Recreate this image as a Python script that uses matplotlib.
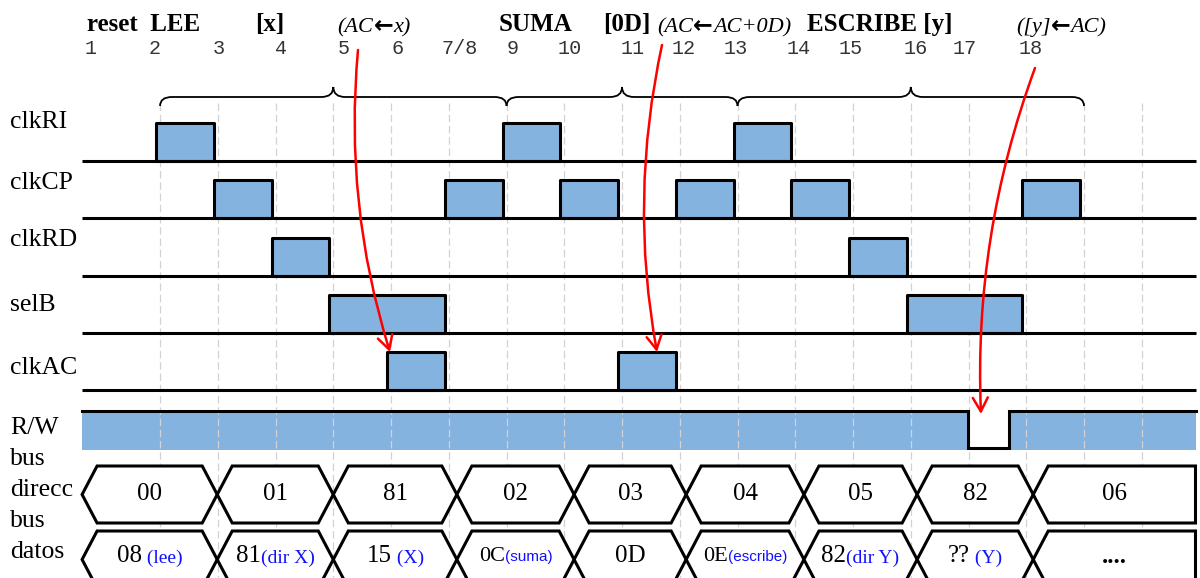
import matplotlib
matplotlib.use('Agg')
import matplotlib.pyplot as plt
from matplotlib.patches import Polygon, PathPatch
from matplotlib.path import Path
from matplotlib.offsetbox import TextArea, HPacker, AnnotationBbox

# ---------------- data ----------------
signal_names = ['clkRI', 'clkCP', 'clkRD', 'selB', 'clkAC']
clkRI = [(0, 1), (6, 7), (10, 11)]
clkCP = [(1, 2), (5, 6), (7, 8), (9, 10), (11, 12), (15, 16)]
clkRD = [(2, 3), (12, 13)]
selB = [(3, 5), (13, 15)]
clkAC = [(4, 5), (8, 9)]
signal_pulses = [clkRI, clkCP, clkRD, selB, clkAC]
rw_low = (14.06, 14.77)
t_start, t_end = -1.28, 18.0
bus_edges = [-1.28, 1.06, 3.07, 5.21, 7.24, 9.18, 11.22, 13.18, 15.19, 18.0]
bus_direcc = ['00', '01', '81', '02', '03', '04', '05', '82', '06']
bus_datos = ['08', '81', '15', '0C', '0D', '0E', '82', '??', '....']
bus_datos_notes = [' (lee)', '(dir X)', ' (X)', '(suma)', '', '(escribe)', '(dir Y)', ' (Y)', '']
step_labels = ['1', '2', '3', '4', '5', '6', '7/8', '9', '10', '11', '12', '13',
               '14', '15', '16', '17', '18']
step_x_px = [91, 155, 219, 281, 344, 398, 460, 513, 570, 633, 684, 736, 799,
             851, 916, 965, 1031]
brace_spans = [(0, 3, 6), (6, 8, 10), (10, 13, 16)]
titles = ['[x]', 'SUMA', '[0D]', 'ESCRIBE [y]']
titles_x_px = [270, 536, 627, 880]
notes = [('(AC', 'x)'), ('(AC', 'AC+0D)'), ('([y]', 'AC)')]
notes_x_px = [374, 724, 1061]
arrows_px = [((358, 50), (390, 352), 0.10),
             ((662, 45), (657, 352), 0.10),
             ((1035, 68), (981, 414), 0.10)]

# ---------------- layout ----------------
W, H = 1200, 578
X0, SC = 156.0, 57.75          # pixel position of t=0 and pixels per unit


def X(p):
    return (p - X0) / SC


BLUE = '#85B3E0'
NOTE_BLUE = '#1010FF'
SERIF = ['Liberation Serif', 'DejaVu Serif']
SANS = ['Liberation Sans', 'DejaVu Sans']
MONO = ['Liberation Mono', 'DejaVu Sans Mono']
LW = 2.2
GRID_OFF = 0.07

fig = plt.figure(figsize=(W / 100, H / 100), dpi=100)
ax = fig.add_axes([0, 0, 1, 1])
ax.set_xlim(X(0), X(W))
ax.set_ylim(H, 0)
ax.axis('off')

# grid
for k in range(18):
    ax.vlines(k + GRID_OFF, 103, H, color='#d2d2d2', lw=0.9,
              linestyles=(0, (6, 3)), zorder=1.5)

# clock / select signals
row0, row_step, box_h = 161, 57.25, 38
label_y = [122, 183, 240, 305, 368]
for i, (name, pulses) in enumerate(zip(signal_names, signal_pulses)):
    base = row0 + row_step * i
    ax.broken_barh([(a, b - a) for a, b in pulses], (base - box_h, box_h),
                   facecolors=BLUE, edgecolors='k', linewidth=LW, zorder=2)
    ax.plot([t_start, t_end], [base, base], color='k', lw=LW, zorder=3,
            solid_capstyle='butt')
    ax.text(X(10), label_y[i], name, family=SERIF, fontsize=18.5,
            va='center', ha='left')

# R/W
rw_top, rw_bot = 411, 450
ax.broken_barh([(t_start, rw_low[0] - t_start), (rw_low[1], t_end - rw_low[1])],
               (rw_top, rw_bot - rw_top), facecolors=BLUE, edgecolors='none',
               zorder=1)
ax.plot([t_start, rw_low[0], rw_low[0], rw_low[1], rw_low[1], t_end],
        [rw_top, rw_top, rw_bot - 2, rw_bot - 2, rw_top, rw_top],
        color='k', lw=LW, zorder=3, solid_joinstyle='miter')
ax.text(X(10), 428, 'R/W', family=SERIF, fontsize=18.5, va='center')
for txt, yy in [('bus', 459), ('direcc', 490), ('bus', 521), ('datos', 552)]:
    ax.text(X(10), yy, txt, family=SERIF, fontsize=18.5, va='center')

# buses
slant = 15 / SC


def hex_row(mid, half):
    n = len(bus_edges) - 1
    for i in range(n):
        e0, e1 = bus_edges[i], bus_edges[i + 1]
        if i == n - 1:
            pts = [(e0, mid), (e0 + slant, mid - half), (e1, mid - half),
                   (e1, mid + half), (e0 + slant, mid + half)]
        else:
            pts = [(e0, mid), (e0 + slant, mid - half), (e1 - slant, mid - half),
                   (e1, mid), (e1 - slant, mid + half), (e0 + slant, mid + half)]
        ax.add_patch(Polygon(pts, closed=True, fc='white', ec='k', lw=LW,
                             joinstyle='miter', zorder=2))


dir_mid, dat_mid, half = 494.5, 559.5, 28.5
hex_row(dir_mid, half)
hex_row(dat_mid, half)

for i, v in enumerate(bus_direcc):
    cx = (bus_edges[i] + bus_edges[i + 1]) / 2
    ax.text(cx, dir_mid - 1, v, family=SERIF, fontsize=18, ha='center',
            va='center', zorder=4)

for i, (v, nt) in enumerate(zip(bus_datos, bus_datos_notes)):
    cx = (bus_edges[i] + bus_edges[i + 1]) / 2
    small = v in ('0C', '0E')
    parts = [TextArea(v, textprops=dict(family=SERIF, fontsize=16 if small else 18,
                                        fontweight='bold' if v == '....' else 'normal',
                                        color='k'))]
    if nt:
        sans = nt in ('(suma)', '(escribe)')
        parts.append(TextArea(nt, textprops=dict(family=SANS if sans else SERIF,
                                                 fontsize=11 if sans else 14,
                                                 color=NOTE_BLUE)))
    box = HPacker(children=parts, align='baseline', pad=0, sep=0)
    ab = AnnotationBbox(box, (cx, dat_mid - 3), frameon=False, pad=0,
                        box_alignment=(0.5, 0.5), zorder=4)
    ax.add_artist(ab)

# braces
r = 12 / SC


def brace(x0, x1, x2, y_end=106, y_arm=97, y_tip=87):
    verts = [(x0, y_end), (x0, y_arm), (x0 + r, y_arm), (x1 - r, y_arm),
             (x1, y_arm), (x1, y_tip), (x1, y_arm), (x1 + r, y_arm),
             (x2 - r, y_arm), (x2, y_arm), (x2, y_end)]
    codes = [Path.MOVETO, Path.CURVE3, Path.CURVE3, Path.LINETO,
             Path.CURVE3, Path.CURVE3, Path.CURVE3, Path.CURVE3,
             Path.LINETO, Path.CURVE3, Path.CURVE3]
    ax.add_patch(PathPatch(Path(verts, codes), fc='none', ec='k', lw=1.3,
                           zorder=3))


for a, b, c in brace_spans:
    brace(a + GRID_OFF, b + GRID_OFF, c + GRID_OFF)

# top titles
ax.text(X(87), 31, 'reset  LEE', family=SERIF, fontsize=18, fontweight='bold',
        ha='left', va='baseline')
for t, xp in zip(titles, titles_x_px):
    ax.text(X(xp), 31, t, family=SERIF, fontsize=18, fontweight='bold',
            ha='center', va='baseline')
for (left, right), xp in zip(notes, notes_x_px):
    it = dict(family=SERIF, fontsize=16, style='italic', color='k')
    parts = [TextArea(left, textprops=it),
             TextArea('\u2190', textprops=dict(family=['DejaVu Sans'],
                                               fontsize=17, fontweight='bold',
                                               color='k')),
             TextArea(right, textprops=it)]
    box = HPacker(children=parts, align='baseline', pad=0, sep=0)
    ax.add_artist(AnnotationBbox(box, (X(xp), 25), frameon=False, pad=0,
                                 box_alignment=(0.5, 0.5), zorder=4))
for s, xp in zip(step_labels, step_x_px):
    ax.text(X(xp), 49, s, family=MONO, fontsize=14.5, color='#333333',
            ha='center', va='center')

# red arrows
for (xa, ya), (xb, yb), rad in arrows_px:
    ax.annotate('', xy=(X(xb), yb), xytext=(X(xa), ya),
                arrowprops=dict(arrowstyle='->,head_length=0.55,head_width=0.3',
                                color='red', lw=1.8, mutation_scale=18,
                                shrinkA=0, shrinkB=0,
                                connectionstyle=f'arc3,rad={rad}'),
                zorder=6)

fig.savefig('out.png', dpi=100)
